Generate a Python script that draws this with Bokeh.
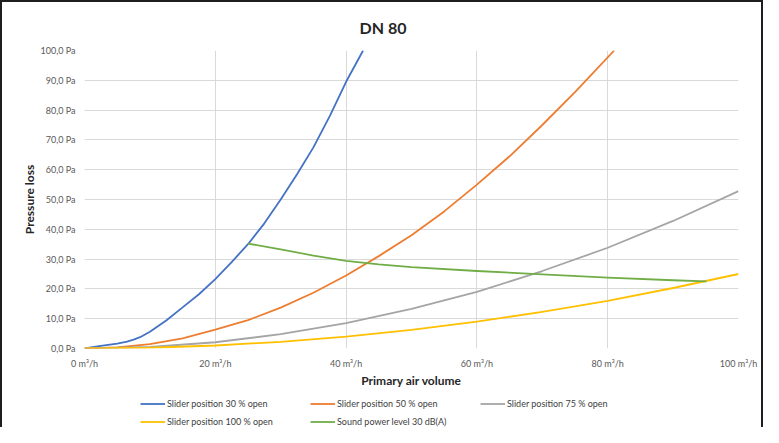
from bokeh.plotting import figure
from bokeh.layouts import column
from bokeh.models import FixedTicker, Legend, LegendItem, Range1d
from bokeh.embed import file_html
from bokeh.resources import INLINE

# ---- data ----
x_ticks = [0, 20, 40, 60, 80, 100]
x_tick_labels = ["0 m³/h", "20 m³/h", "40 m³/h", "60 m³/h", "80 m³/h", "100 m³/h"]
y_ticks = [0, 10, 20, 30, 40, 50, 60, 70, 80, 90, 100]
y_tick_labels = ["0,0 Pa", "10,0 Pa", "20,0 Pa", "30,0 Pa", "40,0 Pa", "50,0 Pa",
                 "60,0 Pa", "70,0 Pa", "80,0 Pa", "90,0 Pa", "100,0 Pa"]

s30_x = [0, 2.5, 5, 6.5, 7.5, 8.5, 10, 12.5, 15, 17.5, 20, 22.5, 25, 27.5, 30, 32.5, 35, 37.5, 40, 42.6]
s30_y = [0, 0.9, 1.6, 2.3, 3.0, 3.8, 5.6, 9.4, 13.8, 18.2, 23.3, 29, 35, 42, 50, 58.5, 67.5, 78, 89.5, 100]

s50_x = [0, 5, 10, 15, 20, 25, 30, 35, 40, 45, 50, 55, 60, 65, 70, 75, 81]
s50_y = [0, 0.4, 1.5, 3.4, 6.3, 9.5, 13.7, 18.7, 24.5, 31, 38, 46, 55, 64.5, 75, 86, 100]

s75_x = [0, 10, 20, 30, 40, 50, 60, 70, 80, 90, 100]
s75_y = [0, 0.5, 2.1, 4.8, 8.5, 13.3, 19, 26, 33.8, 42.8, 52.8]

s100_x = [0, 10, 20, 30, 40, 50, 60, 70, 80, 90, 100]
s100_y = [0, 0.25, 1, 2.25, 4, 6.25, 9, 12.3, 16, 20.3, 25]

snd_x = [25, 30, 35, 40, 45, 50, 60, 70, 80, 90, 95.1]
snd_y = [35.2, 33.3, 31.2, 29.4, 28.2, 27.3, 26.0, 24.9, 23.8, 22.9, 22.5]

series = [
    ("Slider position 30 % open", s30_x, s30_y, "#4472C4"),
    ("Slider position 50 % open", s50_x, s50_y, "#ED7D31"),
    ("Slider position 75 % open", s75_x, s75_y, "#A5A5A5"),
    ("Slider position 100 % open", s100_x, s100_y, "#FFC000"),
    ("Sound power level 30 dB(A)", snd_x, snd_y, "#70AD47"),
]

FONT = "Lato"
W = 759

p = figure(width=W, height=390, output_backend="svg", toolbar_location=None,
           x_range=Range1d(0, 100), y_range=Range1d(0, 100),
           min_border_left=82, min_border_right=23, min_border_top=47, min_border_bottom=44,
           title="DN 80")

p.title.text_font = FONT
p.title.text_font_size = "16px"
p.title.text_font_style = "bold"
p.title.text_color = "#262626"
p.title.align = "left"
p.title.offset = 275
p.title.vertical_align = "bottom"
p.title.standoff = 27

p.outline_line_color = None
p.xgrid.grid_line_color = "#d9d9d9"
p.ygrid.grid_line_color = "#d9d9d9"

p.xaxis.ticker = FixedTicker(ticks=x_ticks)
p.yaxis.ticker = FixedTicker(ticks=y_ticks)
p.xgrid.ticker = FixedTicker(ticks=x_ticks)
p.ygrid.ticker = FixedTicker(ticks=y_ticks)
p.xaxis.major_label_overrides = {t: l for t, l in zip(x_ticks, x_tick_labels)}
p.yaxis.major_label_overrides = {t: l for t, l in zip(y_ticks, y_tick_labels)}

for ax in (p.xaxis, p.yaxis):
    ax.axis_line_color = None
    ax.major_tick_line_color = None
    ax.minor_tick_line_color = None
    ax.major_tick_in = 0
    ax.major_tick_out = 0
    ax.minor_tick_in = 0
    ax.minor_tick_out = 0
    ax.major_label_text_font = FONT
    ax.major_label_text_font_size = "9px"
    ax.major_label_text_color = "#595959"
    ax.axis_label_text_font = FONT
    ax.axis_label_text_font_size = "12px"
    ax.axis_label_text_font_style = "bold"
    ax.axis_label_text_color = "#262626"

p.xaxis.axis_label = "Primary air volume"
p.yaxis.axis_label = "Pressure loss"
p.xaxis.major_label_standoff = 9
p.yaxis.major_label_standoff = 9
p.xaxis.axis_label_standoff = 1
p.yaxis.axis_label_standoff = 1

for name, xs, ys, col in series:
    p.line(xs, ys, line_color=col, line_width=1.8, line_join="round")

# legend strip (separate small figure below the chart; its ranges keep the
# series themselves out of view so only the legend is visible)
p2 = figure(width=W, height=35, output_backend="svg", toolbar_location=None,
            x_axis_location=None, y_axis_location=None, min_border=0,
            x_range=Range1d(-20, -10), y_range=Range1d(-20, -10))
p2.outline_line_color = None
p2.grid.visible = False
items = []
for name, xs, ys, col in series:
    r = p2.line(xs, ys, line_color=col, line_width=1.8)
    items.append(LegendItem(label=name, renderers=[r]))

legend = Legend(items=items, location=(56, -2), ncols=3, orientation="horizontal",
                glyph_width=25, glyph_height=15, label_height=15, label_width=140,
                label_standoff=2, spacing=3, padding=0, margin=0,
                label_text_font=FONT, label_text_font_size="9px", label_text_color="#404040",
                background_fill_alpha=0, border_line_color=None)
p2.add_layout(legend, "center")

layout = column(p, p2, spacing=0,
                styles={"border-top": "2px solid #1e1e1e", "border-left": "2px solid #1e1e1e",
                        "border-right": "2px solid #1e1e1e"})

open("out.html", "w").write(file_html(layout, INLINE))
